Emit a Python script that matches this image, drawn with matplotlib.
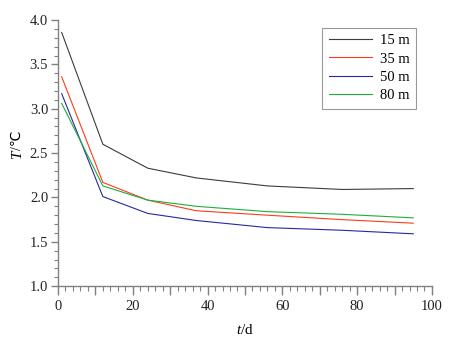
import matplotlib
matplotlib.use("Agg")
from matplotlib import pyplot as plt
from matplotlib.ticker import MultipleLocator, FuncFormatter

plt.rcParams['font.family'] = ['Liberation Serif', 'DejaVu Sans']
plt.rcParams['mathtext.fontset'] = 'custom'
plt.rcParams['mathtext.it'] = 'Liberation Serif:italic'
plt.rcParams['mathtext.rm'] = 'Liberation Serif'

# data
t_days = [1, 12, 24, 37, 56, 76, 95]
T_15 = [3.86, 2.60, 2.33, 2.22, 2.13, 2.09, 2.10]
T_35 = [3.36, 2.17, 1.97, 1.85, 1.80, 1.75, 1.71]
T_50 = [3.17, 2.01, 1.82, 1.74, 1.66, 1.63, 1.59]
T_80 = [3.06, 2.13, 1.97, 1.90, 1.84, 1.81, 1.77]
labels = ["15 m", "35 m", "50 m", "80 m"]

fig = plt.figure(figsize=(4.6, 3.46), dpi=100)
ax = fig.add_axes([0.126, 0.173, 0.813, 0.769])

ax.plot(t_days, T_15, color="#3c3c3c", lw=0.8, label=labels[0])
ax.plot(t_days, T_35, color="#ff3a1a", lw=0.8, label=labels[1])
ax.plot(t_days, T_50, color="#2828a0", lw=0.8, label=labels[2])
ax.plot(t_days, T_80, color="#1fae3c", lw=0.8, label=labels[3])

ax.set_xlim(0, 100)
ax.set_ylim(1.0, 4.0)

ax.spines["top"].set_visible(False)
ax.spines["right"].set_visible(False)
for s in ("left", "bottom"):
    ax.spines[s].set_color("#808080")
    ax.spines[s].set_linewidth(1.0)

ax.xaxis.set_major_locator(MultipleLocator(10))
ax.xaxis.set_minor_locator(MultipleLocator(2))
ax.xaxis.set_major_formatter(FuncFormatter(lambda v, p: "%d" % v if int(round(v)) % 20 == 0 else ""))
ax.yaxis.set_major_locator(MultipleLocator(0.5))
ax.yaxis.set_minor_locator(MultipleLocator(0.1))
ax.yaxis.set_major_formatter(FuncFormatter(lambda v, p: "%.1f" % v))

ax.tick_params(which="both", direction="out", color="#808080", labelsize=10.5, labelcolor="#222222")
ax.tick_params(axis="x", which="major", length=6.5, width=1.0, pad=3.6)
ax.tick_params(axis="x", which="minor", length=3.6, width=0.8)
ax.tick_params(axis="y", which="major", length=5, width=1.0, pad=2)
ax.tick_params(axis="y", which="minor", length=2.9, width=0.8)

ax.set_xlabel(r"$t$/d", fontsize=11, labelpad=7)

# y label: italic T + upright /℃ (℃ comes from DejaVu Sans)
t_lbl = fig.text(0.037, 0.543, "T", rotation=90, ha="center", va="bottom",
                 fontsize=11, style="italic", family="Liberation Serif")
ax.annotate("/℃", xy=(0.5, 1.0), xycoords=t_lbl, rotation=90, ha="center", va="bottom",
            fontsize=10, family=["Liberation Serif", "DejaVu Sans"])

leg = ax.legend(loc="upper right", bbox_to_anchor=(0.958, 0.972), fontsize=10.5, frameon=True, fancybox=False,
                edgecolor="#808080", handlelength=2.95, handletextpad=0.55, borderpad=0.45, labelspacing=0.35,
                borderaxespad=0)
leg.get_frame().set_linewidth(0.8)

fig.savefig("out.png", dpi=100)
